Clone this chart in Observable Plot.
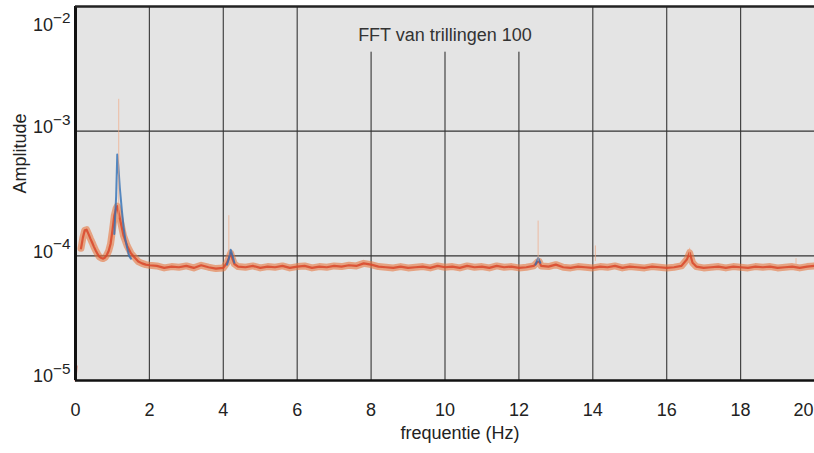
<!DOCTYPE html>
<html><head><meta charset="utf-8">
<script src="https://cdn.jsdelivr.net/npm/d3@7"></script>
<script src="https://cdn.jsdelivr.net/npm/@observablehq/plot@0.6"></script>
<style>body{margin:0;background:#fff;} svg{display:block}</style>
</head><body><div id="chart"></div>
<script>
// ---- data ----
const titleText = "FFT van trillingen 100";
const xLabel = "frequentie (Hz)";
const yLabel = "Amplitude";
const xTicks = [0, 2, 4, 6, 8, 10, 12, 14, 16, 18, 20];
const yTicks = [1e-5, 1e-4, 1e-3, 1e-2];
const xGrid = [2, 4, 6, 8, 10, 12, 14, 16, 18];
const titleGridStop = 4.3e-3;          // gridlines under the title end here
const underTitle = [8, 10, 12];
const yGrid = [1e-4, 1e-3];

// main (orange) spectrum: frequency (Hz) and amplitude
const freq = [0.15,0.2,0.25,0.3,0.35,0.4,0.45,0.5,0.55,0.6,0.65,0.7,0.75,0.8,0.85,0.9,0.95,1.0,1.05,1.1,1.13,1.2,1.3,1.4,1.5,1.6,1.7,1.8,1.9,2.0,
  2.2,2.4,2.6,2.8,3.0,3.2,3.4,3.6,3.8,4.0,4.1,4.15,4.2,4.25,4.3,4.4,4.6,4.8,5.0,5.2,5.4,5.6,5.8,6.0,6.2,6.4,6.6,6.8,7.0,7.2,7.4,7.6,7.8,8.0,
  8.2,8.4,8.6,8.8,9.0,9.2,9.4,9.6,9.8,10.0,10.2,10.4,10.6,10.8,11.0,11.2,11.4,11.6,11.8,12.0,12.2,12.4,12.5,12.55,12.6,12.8,13.0,13.2,13.4,13.6,13.8,
  14.0,14.2,14.4,14.6,14.8,15.0,15.2,15.4,15.6,15.8,16.0,16.2,16.4,16.55,16.62,16.7,16.8,17.0,17.2,17.4,17.6,17.8,18.0,18.2,18.4,18.6,18.8,19.0,19.2,19.4,19.6,19.8,20.0];
const amp = [1.15e-4,1.4e-4,1.6e-4,1.62e-4,1.5e-4,1.38e-4,1.28e-4,1.18e-4,1.1e-4,1.03e-4,0.98e-4,0.96e-4,0.95e-4,0.97e-4,1.02e-4,1.1e-4,1.25e-4,1.6e-4,2.1e-4,2.4e-4,2.5e-4,2.0e-4,1.45e-4,1.2e-4,1.05e-4,0.97e-4,0.9e-4,0.87e-4,0.85e-4,0.84e-4,
  8.3e-5,8.0e-5,8.2e-5,8.1e-5,8.3e-5,8.0e-5,8.4e-5,8.1e-5,7.9e-5,8.0e-5,8.8e-5,9.6e-5,10.5e-5,9.4e-5,8.6e-5,8.2e-5,8.1e-5,8.3e-5,8.0e-5,8.2e-5,8.1e-5,8.3e-5,8.0e-5,8.2e-5,8.3e-5,8.0e-5,8.2e-5,8.1e-5,8.3e-5,8.2e-5,8.4e-5,8.3e-5,8.7e-5,8.5e-5,
  8.2e-5,8.1e-5,8.0e-5,8.2e-5,8.0e-5,8.1e-5,8.2e-5,8.0e-5,8.3e-5,8.1e-5,8.2e-5,8.0e-5,8.3e-5,8.1e-5,8.2e-5,8.0e-5,8.3e-5,8.1e-5,8.2e-5,8.0e-5,8.1e-5,8.3e-5,8.9e-5,9.0e-5,8.3e-5,8.2e-5,8.5e-5,8.1e-5,8.0e-5,8.2e-5,8.1e-5,
  8.0e-5,8.2e-5,8.1e-5,8.3e-5,8.0e-5,8.2e-5,8.1e-5,8.0e-5,8.2e-5,8.1e-5,8.0e-5,8.1e-5,8.3e-5,9.4e-5,10.6e-5,8.8e-5,8.2e-5,8.0e-5,8.1e-5,8.2e-5,8.0e-5,8.2e-5,8.1e-5,8.0e-5,8.2e-5,8.1e-5,8.2e-5,8.0e-5,8.1e-5,8.2e-5,8.0e-5,8.2e-5,8.3e-5];

// DC value at the very start
const dcFreq = [0, 0.03];
const dcAmp = [1.0e-5, 1.3e-5];

// blue peak traces: segment id, frequency, amplitude
const blueSeg  = [1,1,1,1,1,1,1,1,1,1,1, 2,2,2,2,2, 3,3,3];
const blueFreq = [1.05,1.1,1.13,1.16,1.2,1.25,1.3,1.35,1.4,1.45,1.5, 4.1,4.15,4.2,4.25,4.3, 12.45,12.52,12.58];
const blueAmp  = [1.5e-4,3.0e-4,6.5e-4,5.2e-4,3.5e-4,2.4e-4,1.7e-4,1.35e-4,1.15e-4,1.0e-4,0.95e-4, 8.5e-5,9.5e-5,1.12e-4,1.0e-4,8.8e-5, 8.5e-5,9.6e-5,8.8e-5];

// faint narrow spikes: frequency, low, high
const spikeFreq = [1.17, 4.15, 12.52, 14.07, 16.62, 19.5];
const spikeLow  = [2.0e-4, 1.0e-4, 9.0e-5, 9.0e-5, 1.0e-4, 8.5e-5];
const spikeHigh = [1.8e-3, 2.1e-4, 1.9e-4, 1.2e-4, 1.15e-4, 9.5e-5];

// ---- build tables ----
const main = freq.map((f, i) => ({f, a: amp[i]}));
const dc = dcFreq.map((f, i) => ({f, a: dcAmp[i]}));
const blue = blueFreq.map((f, i) => ({s: blueSeg[i], f, a: blueAmp[i]}));
const spikes = spikeFreq.map((f, i) => ({f, lo: spikeLow[i], hi: spikeHigh[i]}));
const supMap = {1e-5: "−5", 1e-4: "−4", 1e-3: "−3", 1e-2: "−2"};

const font = "'Liberation Sans', Arial, sans-serif";
const ink = "#222";

const chart = Plot.plot({
  width: 814, height: 453,
  marginLeft: 75, marginRight: 0, marginTop: 6, marginBottom: 73,
  style: {fontFamily: font, background: "#fff", color: ink},
  x: {domain: [0, 20], axis: null},
  y: {type: "log", domain: [1e-5, 1e-2], axis: null},
  marks: [
    Plot.frame({fill: "#e4e4e4", stroke: null}),
    Plot.ruleX(xGrid, {stroke: "#444", strokeWidth: 1.2}),
    Plot.ruleY(yGrid, {stroke: "#333", strokeWidth: 1.2}),
    Plot.ruleX(underTitle, {y1: titleGridStop, y2: 1e-2, stroke: "#e4e4e4", strokeWidth: 4}),
    Plot.text([titleText], {frameAnchor: "top", dy: 29, lineAnchor: "middle", fontSize: 18, fill: "#333"}),
    Plot.line(dc, {x: "f", y: "a", stroke: "#d9553a", strokeWidth: 2, strokeOpacity: 0.7}),
    Plot.line(main, {x: "f", y: "a", stroke: "#e8773f", strokeWidth: 7, strokeOpacity: 0.6}),
    Plot.line(main, {x: "f", y: "a", stroke: "#d8472a", strokeWidth: 2.2, strokeOpacity: 0.85}),
    Plot.line(blue, {x: "f", y: "a", z: "s", stroke: "#2f6fb5", strokeWidth: 2, strokeOpacity: 0.8}),
    Plot.ruleX(spikes, {x: "f", y1: "lo", y2: "hi", stroke: "#f0a985", strokeWidth: 1, strokeOpacity: 0.7}),
    Plot.ruleX([0], {stroke: "#111", strokeWidth: 3}),
    Plot.ruleY([1e-5], {stroke: "#111", strokeWidth: 2.5}),
    Plot.ruleY([1e-2], {stroke: "#222", strokeWidth: 2.5}),
    Plot.axisX(xTicks.slice(0, -1), {tickSize: 0, tickPadding: 23, fontSize: 18, label: null}),
    Plot.axisX(xTicks.slice(-1), {tickSize: 0, tickPadding: 23, fontSize: 18, label: null, dx: -11}),
    Plot.axisY(yTicks.slice(0, 3), {tickSize: 0, tickPadding: 5, fontSize: 18, label: null, dy: -4, tickFormat: d => "10^" + supMap[d]}),
    Plot.axisY(yTicks.slice(3), {tickSize: 0, tickPadding: 5, fontSize: 18, label: null, dy: 19, tickFormat: d => "10^" + supMap[d]}),
    Plot.text([yLabel], {frameAnchor: "left", dx: -55, rotate: -90, fontSize: 18, fill: ink}),
    Plot.text([xLabel], {frameAnchor: "bottom", dx: 15, dy: 58, fontSize: 18, fill: ink})
  ]
});

// typeset superscripts in y tick labels
d3.select(chart).selectAll('g[aria-label="y-axis tick label"] text').each(function() {
  const t = this.textContent;
  if (!t.includes("^")) return;
  const [base, sup] = t.split("^");
  const sel = d3.select(this);
  sel.text(null).attr("text-anchor", "end");
  sel.append("tspan").text(base);
  sel.append("tspan").attr("dy", "-0.55em").attr("font-size", "0.85em").text(sup);
});
document.getElementById("chart").append(chart);
</script>
</body></html>
